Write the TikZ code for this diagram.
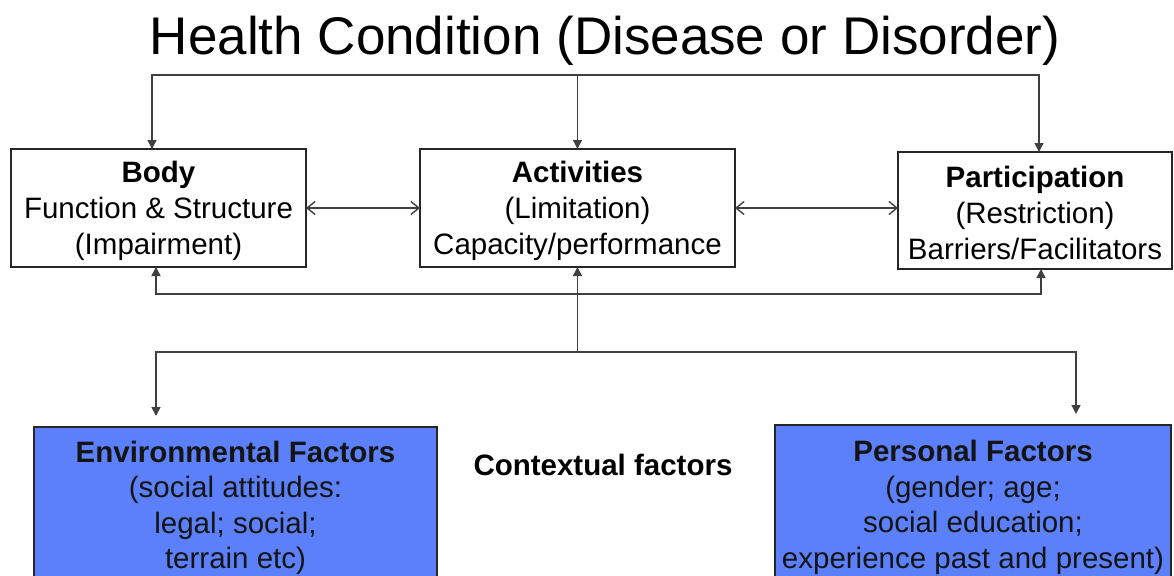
\documentclass[tikz,border=0pt]{standalone}
\usepackage{fontspec}
\setmainfont{Liberation Sans}
\usetikzlibrary{arrows.meta}
\definecolor{factorblue}{HTML}{5B80FA}
\definecolor{linegray}{HTML}{404040}
% taller first line so the text block sits a little lower in its box
\newcommand\headstrut[1]{\rule{0pt}{#1}}
\begin{document}
\begin{tikzpicture}[x=1pt,y=-1pt,
  every node/.style={inner sep=0pt, outer sep=0pt},
  stagebox/.style={draw=black!85, line width=1.3pt, align=center, anchor=north west,
    font=\fontsize{29.5}{36}\selectfont},
  factorbox/.style={stagebox, fill=factorblue, text=black!92,
    font=\fontsize{29.5}{35.5}\selectfont},
  link/.style={draw=linegray, line width=1.4pt},
  tip/.style={link, -{Triangle[length=9pt,width=9pt]}},
  both/.style={link, {Straight Barb[length=8pt,width=13pt]}-{Straight Barb[length=8pt,width=13pt]}}
]
\useasboundingbox (0,0) rectangle (1174,575);
\clip (0,0) rectangle (1174,575);

% title
\node[font=\fontsize{53}{60}\selectfont, anchor=base] (title) at (605,55)
  {Health Condition (Disease or Disorder)};

% the three components
\node[stagebox, minimum width=295pt, minimum height=118pt] (body) at (11,149)
  {\headstrut{28pt}\textbf{Body}\\Function \& Structure\\(Impairment)};
\node[stagebox, minimum width=315pt, minimum height=118pt] (act) at (420,149)
  {\headstrut{28pt}\textbf{Activities}\\(Limitation)\\Capacity/performance};
\node[stagebox, minimum width=274pt, minimum height=117pt] (part) at (898,152)
  {\headstrut{26pt}\textbf{Participation}\\(Restriction)\\Barriers/Facilitators};

% contextual factors
\node[factorbox, minimum width=403pt, minimum height=158pt] (env) at (34,427)
  {\headstrut{25pt}\textbf{Environmental Factors}\\(social attitudes:\\legal; social;\\terrain etc)};
\node[factorbox, minimum width=396pt, minimum height=160pt] (pers) at (775,425)
  {\headstrut{26pt}\textbf{Personal Factors}\\(gender; age;\\social education;\\experience past and present)};
\node[font=\fontsize{29.5}{36}\selectfont\bfseries, anchor=base] (ctx) at (603,475)
  {Contextual factors};

% health condition bar
\coordinate (hl) at (152,75);
\coordinate (hr) at (1039,75);
\draw[tip] (hr) -- (hl) -- (hl |- body.north);
\draw[tip] (hl) -- (hr) -- (hr |- part.north);
\draw[tip] (act.north |- hl) -- (act.north);

% interactions between components
\draw[both] (body.east) -- (act.west);
\draw[both] (act.east) -- (act.east -| part.west);

% feedback bar below the components
\coordinate (fl) at (156,294);
\coordinate (fr) at (1041,294);
\draw[tip] (fr) -- (fl) -- (fl |- body.south);
\draw[tip] (fl) -- (fr) -- (fr |- part.south);

% contextual bar
\coordinate (cl) at (156,352);
\coordinate (cr) at (1076,352);
\draw[tip] (act.south |- cl) -- (act.south);
\draw[tip, shorten >=11pt] (cr) -- (cl) -- (cl |- env.north);
\draw[tip, shorten >=11pt] (cl) -- (cr) -- (cr |- pers.north);
\end{tikzpicture}
\end{document}
